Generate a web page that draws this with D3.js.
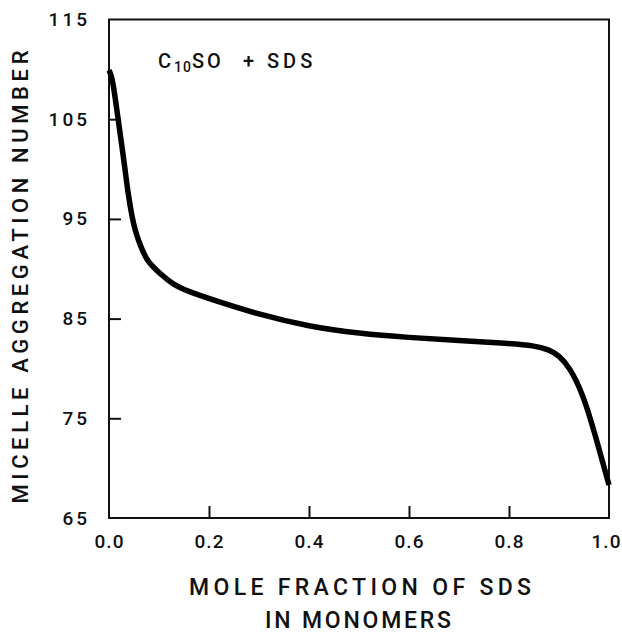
<!DOCTYPE html>
<html>
<head>
<meta charset="utf-8">
<script src="https://cdn.jsdelivr.net/npm/d3@7"></script>
<style>
  html, body { margin: 0; padding: 0; background: #fff; }
  text { font-family: Roboto, "Liberation Sans", sans-serif; font-weight: 500; fill: #111; }
</style>
</head>
<body>
<svg id="chart" width="622" height="633"></svg>
<script>
// ---- data ----
const moleFraction = [0, 0.004, 0.009, 0.018, 0.025, 0.032, 0.038, 0.046, 0.052, 0.06, 0.068, 0.076, 0.086, 0.1, 0.128, 0.16, 0.2, 0.3, 0.4, 0.5, 0.6, 0.7, 0.8, 0.85, 0.88, 0.9, 0.92, 0.948, 0.976, 1.0];
const aggregationNumber = [109.9, 109.5, 108.4, 105.1, 102.6, 100.0, 97.6, 95.2, 93.9, 92.7, 91.7, 90.9, 90.3, 89.6, 88.4, 87.7, 87.0, 85.4, 84.2, 83.5, 83.1, 82.8, 82.5, 82.3, 81.9, 81.3, 80.2, 77.5, 72.7, 68.3];
const xTicks = [0, 0.2, 0.4, 0.6, 0.8, 1.0];
const xTickLabels = ["0.0", "0.2", "0.4", "0.6", "0.8", "1.0"];
const yTicks = [65, 75, 85, 95, 105, 115];
const yTickLabels = ["65", "75", "85", "95", "105", "115"];
const xTitleLines = ["MOLE FRACTION OF SDS", "IN MONOMERS"];
const yTitle = "MICELLE AGGREGATION NUMBER";

// ---- layout ----
const svg = d3.select("#chart");
const pLeft = 109, pRight = 609, pTop = 19.5, pBottom = 518;
const x = d3.scaleLinear().domain([0, 1]).range([pLeft, pRight]);
const y = d3.scaleLinear().domain([65, 115]).range([pBottom, pTop]);

// frame
svg.append("rect")
  .attr("x", pLeft).attr("y", pTop)
  .attr("width", pRight - pLeft).attr("height", pBottom - pTop)
  .attr("fill", "none").attr("stroke", "#111").attr("stroke-width", 2);

// x axis (ticks inside)
const xAxis = d3.axisBottom(x).tickValues(xTicks).tickSize(-12)
  .tickFormat((d, i) => xTickLabels[i]).tickPadding(17);
const gx = svg.append("g").attr("transform", `translate(0,${pBottom})`).call(xAxis);
gx.select(".domain").remove();
gx.selectAll(".tick line").attr("stroke", "#111").attr("stroke-width", 2)
  .attr("display", d => (d === 0 || d === 1) ? "none" : null);
gx.selectAll(".tick text").attr("font-size", 19).attr("letter-spacing", 1)
  .attr("font-family", "Roboto, Liberation Sans, sans-serif").attr("font-weight", 500).attr("fill", "#111")
  .attr("dx", d => d === 1 ? -3 : 0);

// y axis (ticks inside)
const yAxis = d3.axisLeft(y).tickValues(yTicks).tickSize(-12)
  .tickFormat((d, i) => yTickLabels[i]).tickPadding(19);
const gy = svg.append("g").attr("transform", `translate(${pLeft},0)`).call(yAxis);
gy.select(".domain").remove();
gy.selectAll(".tick text").attr("font-size", 19).attr("letter-spacing", 3)
  .attr("font-family", "Roboto, Liberation Sans, sans-serif").attr("font-weight", 500).attr("fill", "#111");
gy.selectAll(".tick line").attr("stroke", "#111").attr("stroke-width", 2)
  .attr("display", d => (d === 65 || d === 115) ? "none" : null);

// curve
const pts = moleFraction.map((v, i) => [v, aggregationNumber[i]]);
const line = d3.line().x(d => x(d[0])).y(d => y(d[1])).curve(d3.curveBasis);
svg.append("path").datum(pts).attr("d", line)
  .attr("fill", "none").attr("stroke", "#000").attr("stroke-width", 5.5)
  .attr("stroke-linecap", "butt").attr("stroke-linejoin", "round");

// annotation C10SO + SDS
const ann = svg.append("text").attr("y", 68).attr("font-size", 20).attr("letter-spacing", 3);
ann.append("tspan").attr("x", 158).text("C");
ann.append("tspan").attr("font-size", 14).attr("dy", 4).attr("letter-spacing", 1).text("10");
ann.append("tspan").attr("dy", -4).text("SO");
ann.append("tspan").attr("x", 243).text("+");
ann.append("tspan").attr("x", 267).attr("letter-spacing", 4).text("SDS");

// x title
svg.append("text").attr("x", (pLeft + pRight) / 2 + 1).attr("y", 595)
  .attr("text-anchor", "middle").attr("font-size", 23)
  .attr("textLength", 342).attr("lengthAdjust", "spacing").text(xTitleLines[0]);
svg.append("text").attr("x", (pLeft + pRight) / 2 - 1).attr("y", 628)
  .attr("text-anchor", "middle").attr("font-size", 23)
  .attr("textLength", 186).attr("lengthAdjust", "spacing").text(xTitleLines[1]);

// y title
svg.append("text")
  .attr("transform", "translate(28,277) rotate(-90)")
  .attr("text-anchor", "middle").attr("font-size", 22)
  .attr("textLength", 453).attr("lengthAdjust", "spacing").text(yTitle);
</script>
</body>
</html>
